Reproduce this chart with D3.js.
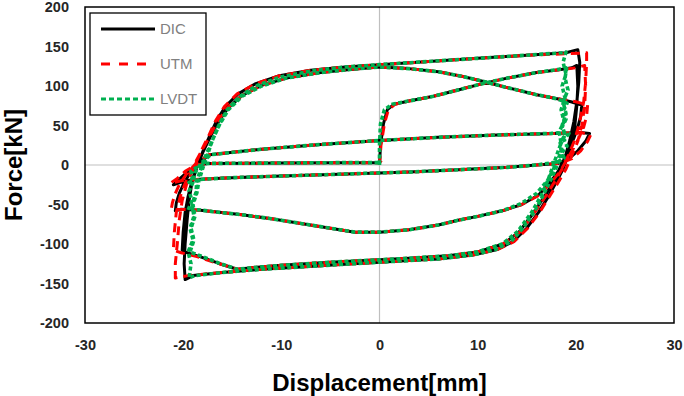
<!DOCTYPE html>
<html>
<head>
<meta charset="utf-8">
<script src="https://cdn.jsdelivr.net/npm/d3@7"></script>
<style>
  body { margin: 0; background: #fff; }
  svg { display: block; }
</style>
</head>
<body>
<script>
// axis ticks
const xTicks = [-30, -20, -10, 0, 10, 20, 30];
const yTicks = [-200, -150, -100, -50, 0, 50, 100, 150, 200];
const seriesNames = ["DIC", "UTM", "LVDT"];

// DIC displacement/force path (mm, kN)
const dicData = [
  [0,0],[0.1,25],[0.4,52],[0.8,70],[1.5,77],[3,81],[5.5,87],[8,95],[10.5,103],[13,110],[16,117],[18.5,121],[19.6,123],[20.1,126],
  [20.2,100],[20.1,75],[19.9,50],[19.6,30],[19.2,12],[18.7,-5],[18,-22],[17.2,-40],[16.2,-60],[15,-80],[13.6,-97],[12,-107],[9.5,-114],[6,-119],[3,-121],[0,-123],[-4,-126],[-8,-129],[-12,-132],[-16,-136],[-19,-140],[-19.8,-145],
  [-19.9,-125],[-19.8,-100],[-19.6,-70],[-19.4,-45],[-19.1,-22],[-18.6,-3],[-18,17],[-17.3,37],[-16.6,56],[-15.7,74],[-14.4,90],[-12.6,103],[-10.2,113],[-7,120],[-3.5,124],[0,127],[5,131],[10,135],[15,139],[19,142],[20.2,146],
  [20.4,130],[20.3,105],[20.1,80],[19.8,55],[19.4,32],[19,14],[18.5,-3],[17.8,-20],[16.8,-40],[15.6,-62],[14.2,-85],[12.6,-100],[10,-110],[7,-115],[3,-118],[0,-120],[-5,-123],[-10,-127],[-13,-130],[-14.5,-132],[-16.5,-124],[-18.3,-116],[-19.6,-111],[-20.1,-108],
  [-20,-85],[-19.8,-60],[-19.5,-40],[-19.1,-20],[-18.6,-2],[-18,16],[-17.3,34],[-16.5,53],[-15.5,71],[-14,88],[-12,101],[-9.5,110],[-6,117],[-3,121],[0,124],[3,122],[6,118],[8.5,112],[10.5,106],[13,98],[16,89],[18.5,83],[19.5,80],[20.6,76],
  [20.5,62],[20.2,48],[19.8,34],[19.3,20],[18.8,7],[18.2,-8],[17.4,-22],[16.2,-38],[14.5,-50],[12.5,-58],[10,-65],[8,-70],[6,-76],[3,-82],[0,-85],[-2.5,-85],[-5,-80],[-8,-74],[-11,-68],[-14,-63],[-17,-59],[-18.5,-57],[-20.2,-56],[-20.8,-58],
  [-20.7,-48],[-20.4,-36],[-20,-25],[-19.4,-12],[-18.5,2],[-17.3,13],[-12,20],[-6,26],[0,31],[6,35],[12,38],[17.7,40],[20.5,41],[21.4,40],
  [21,30],[20.2,18],[19.3,8],[18.2,2],[16,0],[13,-3],[8,-6],[3,-9],[0,-10],[-5,-12],[-10,-14],[-15,-16],[-18.3,-18],[-19.8,-20],[-21,-25],
  [-20.3,-17],[-19.5,-8],[-18.5,0],[-17.5,2],[-10,2.5],[-4,3],[0,3],[0.1,5]
];

// UTM (machine stroke) - peaks reach a bit further out
const utmData = [
  [0,0],[0.15,25],[0.5,52],[0.9,70],[1.6,77],[3,81],[5.5,87],[8,95],[10.5,103],[13,110],[16,117],[18.6,121],[20,123],[20.9,126],
  [21,100],[20.9,75],[20.6,50],[20.2,30],[19.6,12],[19,-5],[18.2,-22],[17.3,-40],[16.3,-60],[15.1,-80],[13.7,-97],[12,-107],[9.5,-114],[6,-119],[3,-121],[0,-123],[-4,-126],[-8,-129],[-12,-132],[-16,-136],[-19.5,-140],[-20.8,-143],
  [-20.8,-125],[-20.6,-100],[-20.4,-70],[-20.1,-45],[-19.6,-22],[-18.9,-3],[-18.2,17],[-17.4,37],[-16.7,56],[-15.8,74],[-14.5,90],[-12.6,103],[-10.2,113],[-7,120],[-3.5,124],[0,127],[5,131],[10,135],[15,139],[19.5,141],[21.1,142],
  [21.1,130],[21,105],[20.8,80],[20.4,55],[19.9,32],[19.3,14],[18.7,-3],[17.9,-20],[16.9,-40],[15.7,-62],[14.3,-85],[12.6,-100],[10,-110],[7,-115],[3,-118],[0,-120],[-5,-123],[-10,-127],[-13,-130],[-14.5,-132],[-16.6,-124],[-18.6,-116],[-20.2,-111],[-21,-108],
  [-20.9,-85],[-20.7,-60],[-20.3,-40],[-19.7,-20],[-19,-2],[-18.2,16],[-17.4,34],[-16.6,53],[-15.6,71],[-14,88],[-12,101],[-9.5,110],[-6,117],[-3,121],[0,124],[3,122],[6,118],[8.5,112],[10.5,106],[13,98],[16,89],[18.6,83],[20,80],[21.2,76],
  [21.1,62],[20.8,48],[20.3,34],[19.7,20],[19.1,7],[18.4,-8],[17.5,-22],[16.3,-38],[14.5,-50],[12.5,-58],[10,-65],[8,-70],[6,-76],[3,-82],[0,-85],[-2.5,-85],[-5,-80],[-8,-74],[-11,-68],[-14,-63],[-17,-59],[-18.7,-57],[-20.6,-56],[-21.2,-55],
  [-21.1,-48],[-20.8,-36],[-20.4,-25],[-19.7,-12],[-18.7,2],[-17.4,13],[-12,20],[-6,26],[0,31],[6,35],[12,38],[17.8,40],[20.6,41],[21.5,38],
  [21.2,30],[20.5,18],[19.6,8],[18.4,2],[16,0],[13,-3],[8,-6],[3,-9],[0,-10],[-5,-12],[-10,-14],[-15,-16],[-18.4,-18],[-20.2,-20],[-21.3,-23],
  [-20.6,-17],[-19.8,-8],[-18.7,0],[-17.6,2],[-10,2.5],[-4,3],[0,3],[0.2,6]
];

// LVDT - peaks a bit further in, noisy near the unloading branches
const lvdtData = [
  [0,0],[0,25],[0.1,52],[0.5,70],[1.3,77],[3,81],[5.5,87],[8,95],[10.5,103],[13,110],[16,117],[18.2,121],[18.9,123],[19.1,126],
  [18.9,110],[19.2,95],[18.7,80],[19,65],[18.6,50],[18.9,38],[18.4,25],[18.6,12],[18.1,0],[17.6,-15],[17,-30],[16.4,-45],[15.6,-62],[14.6,-80],[13.4,-97],[11.8,-107],[9.5,-114],[6,-119],[3,-121],[0,-123],[-4,-126],[-8,-129],[-12,-132],[-16,-136],[-18.8,-140],[-19.4,-143],
  [-19.2,-125],[-19.5,-110],[-19,-95],[-19.3,-80],[-18.9,-65],[-19.1,-50],[-18.7,-35],[-18.6,-20],[-18.2,-5],[-17.7,12],[-17,32],[-16.3,52],[-15.5,70],[-14.3,86],[-12.6,100],[-10.2,111],[-7,119],[-3.5,124],[0,127],[5,131],[10,135],[15,139],[18.6,142],[19,143],
  [18.7,130],[19,115],[18.6,100],[18.9,85],[18.5,70],[18.8,55],[18.3,42],[18.5,28],[18.1,14],[17.7,0],[17.2,-18],[16.5,-38],[15.5,-60],[14.1,-84],[12.5,-100],[10,-110],[7,-115],[3,-118],[0,-120],[-5,-123],[-10,-127],[-13,-130],[-14.5,-132],[-16.4,-124],[-18,-116],[-18.9,-112],[-19.3,-110],
  [-18.9,-95],[-19.2,-80],[-18.8,-65],[-19,-50],[-18.6,-35],[-18.4,-20],[-18,-4],[-17.5,14],[-17,32],[-16.3,51],[-15.4,70],[-14,87],[-12,100],[-9.5,110],[-6,117],[-3,121],[0,124],[3,122],[6,118],[8.5,112],[10.5,106],[13,98],[16,89],[18,84],[18.7,81],[19.1,78],
  [18.7,68],[19,58],[18.6,48],[18.9,38],[18.4,28],[18.6,18],[18.1,6],[17.7,-6],[17.1,-20],[16,-36],[14.4,-49],[12.5,-58],[10,-65],[8,-70],[6,-76],[3,-82],[0,-85],[-2.5,-85],[-5,-80],[-8,-74],[-11,-68],[-14,-63],[-17,-59],[-18.2,-57],[-19.2,-56],[-19.5,-57],
  [-19.1,-45],[-19.4,-33],[-19,-22],[-18.8,-10],[-18.2,2],[-17.2,13],[-12,20],[-6,26],[0,31],[6,35],[12,38],[17.5,40],[18.6,41],[19.3,40],
  [18.8,32],[19.1,24],[18.6,16],[18.8,9],[18.2,4],[16,0],[13,-3],[8,-6],[3,-9],[0,-10],[-5,-12],[-10,-14],[-15,-16],[-18,-18],[-19,-20],[-19.4,-22],
  [-19,-15],[-19.2,-8],[-18.5,-2],[-17.6,2],[-10,2.5],[-4,3],[0,3],[0,6]
];

const W = 684, H = 396;
const plotLeft = 85, plotRight = 674, plotTop = 7, plotBottom = 323;

const svg = d3.select("body").append("svg")
  .attr("width", W)
  .attr("height", H);

const x = d3.scaleLinear().domain([-30, 30]).range([plotLeft, plotRight]);
const y = d3.scaleLinear().domain([-200, 200]).range([plotBottom, plotTop]);

// zero lines
svg.append("line")
  .attr("x1", x(0)).attr("x2", x(0))
  .attr("y1", plotTop).attr("y2", plotBottom)
  .style("stroke", "#bfbfbf").style("stroke-width", 1.2);
svg.append("line")
  .attr("x1", plotLeft).attr("x2", plotRight)
  .attr("y1", y(0)).attr("y2", y(0))
  .style("stroke", "#bfbfbf").style("stroke-width", 1.2);

// axes (labels only, plain hyphen for negatives)
const fmt = function(d) { return String(d); };
const xAxis = svg.append("g")
  .attr("transform", "translate(0," + plotBottom + ")")
  .call(d3.axisBottom(x).tickValues(xTicks).tickFormat(fmt).tickSize(0).tickPadding(17));
const yAxis = svg.append("g")
  .attr("transform", "translate(" + plotLeft + ",0)")
  .call(d3.axisLeft(y).tickValues(yTicks).tickFormat(fmt).tickSize(0).tickPadding(16));

[xAxis, yAxis].forEach(function(g) {
  g.select(".domain").remove();
  g.selectAll("text")
    .style("font-family", "'Liberation Sans', Arial, sans-serif")
    .style("font-size", "14.5px")
    .style("font-weight", "bold")
    .style("fill", "#262626");
});
yAxis.selectAll("text").attr("dy", "0.34em");

const line = d3.line()
  .x(function(d) { return x(d[0]); })
  .y(function(d) { return y(d[1]); })
  .curve(d3.curveLinear);

const styles = [
  {data: dicData, color: "#000000", width: 3, dash: null},
  {data: utmData, color: "#ff0000", width: 3, dash: "9,6"},
  {data: lvdtData, color: "#00b050", width: 3.6, dash: "4,2.5"}
];

styles.forEach(function(s) {
  svg.append("path")
    .attr("d", line(s.data))
    .style("fill", "none")
    .style("stroke", s.color)
    .style("stroke-width", s.width)
    .style("stroke-linejoin", "round")
    .style("stroke-dasharray", s.dash);
});

// plot frame
svg.append("rect")
  .attr("x", plotLeft).attr("y", plotTop)
  .attr("width", plotRight - plotLeft)
  .attr("height", plotBottom - plotTop)
  .style("fill", "none")
  .style("stroke", "#000")
  .style("stroke-width", 1.5);

// legend
const legend = svg.append("g");
legend.append("rect")
  .attr("x", 90).attr("y", 13)
  .attr("width", 116).attr("height", 102)
  .style("fill", "#fff")
  .style("stroke", "#000")
  .style("stroke-width", 1.3);

seriesNames.forEach(function(name, i) {
  const ly = 29 + i * 35;
  legend.append("line")
    .attr("x1", 101).attr("x2", 155)
    .attr("y1", ly).attr("y2", ly)
    .style("stroke", styles[i].color)
    .style("stroke-width", 3)
    .style("stroke-dasharray", i === 0 ? null : (i === 1 ? "9,9" : "5,3"));
  legend.append("text")
    .attr("x", 160).attr("y", ly + 5)
    .style("font-family", "'Liberation Sans Narrow', 'Liberation Sans', Arial, sans-serif")
    .style("font-size", "15px")
    .style("fill", "#808080")
    .text(name);
});

// axis titles
svg.append("text")
  .attr("x", x(0))
  .attr("y", 391)
  .attr("text-anchor", "middle")
  .style("font-family", "'Liberation Sans', Arial, sans-serif")
  .style("font-size", "24px")
  .style("font-weight", "bold")
  .style("fill", "#000")
  .text("Displacement[mm]");

svg.append("text")
  .attr("transform", "translate(22," + y(0) + ") rotate(-90)")
  .attr("text-anchor", "middle")
  .style("font-family", "'Liberation Sans', Arial, sans-serif")
  .style("font-size", "24px")
  .style("font-weight", "bold")
  .style("fill", "#000")
  .text("Force[kN]");
</script>
</body>
</html>
